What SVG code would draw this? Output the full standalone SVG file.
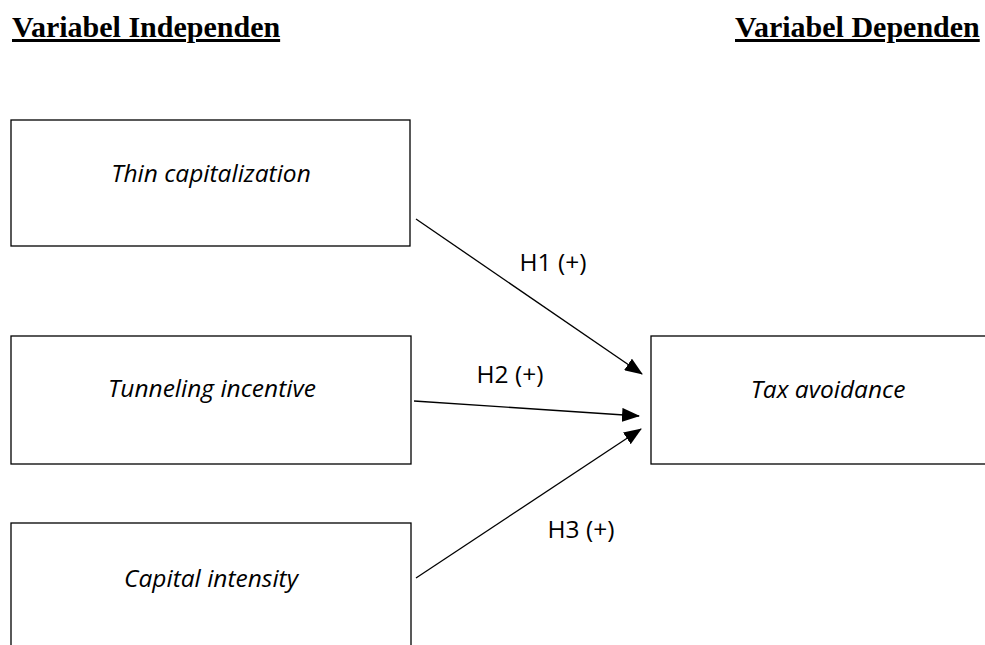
<svg xmlns="http://www.w3.org/2000/svg" width="985" height="645" viewBox="0 0 985 645">
<style>
.box{fill:#fff;stroke:#000;stroke-width:1.3}
.lbl{font-family:"Open Sans","Liberation Sans",sans-serif;font-style:italic;font-size:24.5px;fill:#000;text-anchor:middle}
.hyp{font-family:"Open Sans","Liberation Sans",sans-serif;font-size:24.5px;fill:#000;text-anchor:middle}
.head{font-family:"Liberation Serif",serif;font-weight:bold;font-size:30px;fill:#000;text-decoration:underline}
.conn{stroke:#000;stroke-width:1.3;fill:none;marker-end:url(#ah)}
</style>
<defs>
<marker id="ah" markerWidth="18" markerHeight="14" refX="17" refY="7" orient="auto" markerUnits="userSpaceOnUse" viewBox="0 0 18 14">
<path d="M0,0 L18,7 L0,14 Z" fill="#000"/>
</marker>
</defs>
<rect width="985" height="645" fill="#fff"/>
<text class="head" x="12" y="37">Variabel Independen</text>
<text class="head" x="735" y="37">Variabel Dependen</text>
<g id="thin">
<rect class="box" x="11" y="120" width="399" height="126"/>
<text class="lbl" x="211" y="182">Thin capitalization</text>
</g>
<g id="tunnel">
<rect class="box" x="11" y="336" width="400" height="128"/>
<text class="lbl" x="212" y="397">Tunneling incentive</text>
</g>
<g id="capital">
<rect class="box" x="11" y="523" width="400" height="140"/>
<text class="lbl" x="211" y="587">Capital intensity</text>
</g>
<g id="tax">
<rect class="box" x="651" y="336" width="350" height="128"/>
<text class="lbl" x="828" y="398">Tax avoidance</text>
</g>
<g id="connectors">
<line class="conn" x1="416" y1="219" x2="642" y2="374"/>
<line class="conn" x1="414" y1="401" x2="639" y2="416"/>
<line class="conn" x1="416" y1="578" x2="641" y2="429"/>
<text class="hyp" x="553" y="271">H1 (+)</text>
<text class="hyp" x="510" y="383">H2 (+)</text>
<text class="hyp" x="581" y="538">H3 (+)</text>
</g>
</svg>
